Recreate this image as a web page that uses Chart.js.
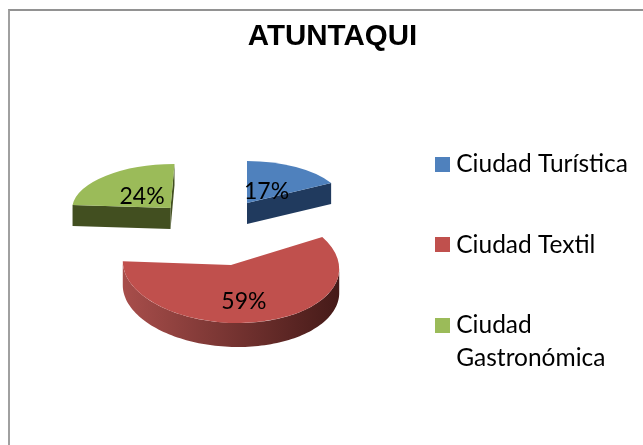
<!DOCTYPE html>
<html><head><meta charset="utf-8">
<script src="https://cdn.jsdelivr.net/npm/chart.js@4"></script>
<style>
html,body{margin:0;padding:0;background:#fff;overflow:hidden}
#wrap{position:absolute;left:0;top:0;width:643px;height:445px}
#frame{position:absolute;left:8px;top:9px;right:-5px;bottom:-5px;border-top:2px solid #929292;border-left:2px solid #a0a0a0}
canvas{position:absolute;left:0;top:0}
</style></head><body>
<div id="wrap"><div id="frame"></div><canvas id="c" width="643" height="445"></canvas></div>
<script>
const titleText = 'ATUNTAQUI';
const categories = ['Ciudad Turística', 'Ciudad Textil', ['Ciudad', 'Gastronómica']];
const shares = [17, 59, 24];
const faceColors = ['#4f81bd', '#c0504d', '#9bbb59'];
const wallLeft = ['#203a5e', '#a84e4b', '#424f20'];
const wallRight = ['#203a5e', '#451a18', '#424f20'];
// Look of the perspective pie: where each exploded wedge sits, its axes, its wall depth.
const apexes = [[247, 203], [231, 265], [170.5, 208]];
const xAxes = [[96, 0.3], [108, 0], [98.4, 0.2]];
const upAxes = [[0, -42], [-7, -58], [4, -44]];
const depths = [21, 24, 21];
const labelReach = [0.38, 0.62, 0.41];
const labelNudge = [[1, 2], [-6, 1], [-2, 2]];

const swatch = color => {
  const s = document.createElement('canvas');
  s.width = 15; s.height = 15;
  const g = s.getContext('2d');
  g.fillStyle = color; g.fillRect(0, 0, 15, 15);
  return s;
};

const perspectivePie = {
  id: 'perspectivePie',
  afterLayout(chart) {
    chart.titleBlock.left = 22; chart.titleBlock.right = 643;
    chart.legend.left = 384; chart.legend.top = 96;
  },
  beforeDatasetDraw(chart, args) {
    const ctx = chart.ctx;
    const arcs = args.meta.data;
    arcs.forEach((arc, i) => {
      const {x, y, startAngle, endAngle, outerRadius: R} = arc.getProps(['x','y','startAngle','endAngle','outerRadius'], true);
      const [ax, ay] = apexes[i], u = xAxes[i], v = upAxes[i], d = depths[i];
      const project = a => {
        const t = a + Math.PI / 2;
        return [ax + u[0]*Math.sin(t) + v[0]*Math.cos(t), ay + u[1]*Math.sin(t) + v[1]*Math.cos(t)];
      };
      const outline = [[ax, ay]];
      const steps = 120;
      for (let s = 0; s <= steps; s++) outline.push(project(startAngle + (endAngle - startAngle) * s / steps));
      const xs = outline.map(p => p[0]);
      const g = ctx.createLinearGradient(Math.min(...xs), 0, Math.max(...xs), 0);
      g.addColorStop(0, wallLeft[i]); g.addColorStop(1, wallRight[i]);
      const runs = [];
      let run = null;
      for (let k = 0; k < outline.length; k++) {
        const p = outline[k], q = outline[(k + 1) % outline.length];
        if (q[0] - p[0] < 0) {
          if (!run) { run = [p]; runs.push(run); }
          run.push(q);
        } else run = null;
      }
      ctx.save();
      ctx.fillStyle = g;
      runs.forEach(r => {
        ctx.beginPath();
        r.forEach((p, n) => n ? ctx.lineTo(p[0], p[1]) : ctx.moveTo(p[0], p[1]));
        r.slice().reverse().forEach(p => ctx.lineTo(p[0], p[1] + d));
        ctx.closePath(); ctx.fill();
      });
      ctx.restore();
      ctx.save();
      ctx.transform(u[0]/R, u[1]/R, -v[0]/R, -v[1]/R, ax, ay);
      ctx.translate(-x, -y);
      arc.draw(ctx);
      ctx.restore();
    });
    arcs.forEach((arc, i) => {
      const {startAngle, endAngle} = arc.getProps(['startAngle','endAngle'], true);
      const t = (startAngle + endAngle) / 2 + Math.PI / 2, r = labelReach[i];
      const [ax, ay] = apexes[i], u = xAxes[i], v = upAxes[i], n = labelNudge[i];
      ctx.save();
      ctx.font = '23px Lato';
      ctx.fillStyle = '#000'; ctx.textAlign = 'center'; ctx.textBaseline = 'middle';
      ctx.fillText(shares[i] + '%', ax + n[0] + r*(u[0]*Math.sin(t) + v[0]*Math.cos(t)), ay + n[1] + r*(u[1]*Math.sin(t) + v[1]*Math.cos(t)));
      ctx.restore();
    });
    return false;
  }
};

new Chart(document.getElementById('c'), {
  type: 'pie',
  data: { labels: categories, datasets: [{ data: shares, backgroundColor: faceColors, borderWidth: 0 }] },
  options: {
    responsive: false, animation: false,
    plugins: {
      tooltip: { enabled: false },
      title: { display: true, text: titleText, color: '#000', padding: { top: 19, bottom: 10 },
        font: { family: 'Arial, "Liberation Sans", sans-serif', size: 29.5, weight: 'bold' } },
      legend: { position: 'right', align: 'start',
        labels: { usePointStyle: true, pointStyleWidth: 4, boxWidth: 4, boxHeight: 15, padding: 56, color: '#000',
          font: { family: 'Lato', size: 24.5, lineHeight: 1.35 },
          generateLabels(chart) {
            return Chart.overrides.pie.plugins.legend.labels.generateLabels(chart).map((item, i) => {
              item.pointStyle = swatch(faceColors[i]);
              return item;
            });
          } } }
    }
  },
  plugins: [perspectivePie]
});
</script>
</body></html>
